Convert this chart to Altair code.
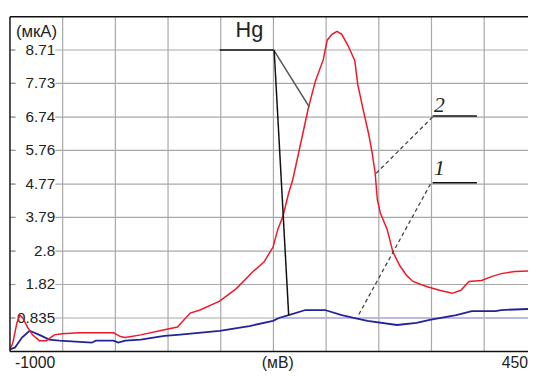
import altair as alt
import pandas as pd

# ---- data ----
red_mv = [-1000, -992, -981, -973, -965, -951, -938, -919, -900, -878, -856, -810, -715, -696, -683,
          -640, -575, -539, -504, -477, -423, -377, -331, -301, -276, -263, -249, -233, -222, -206,
          -179, -160, -138, -127, -114, -100, -87, -70, -51, -43, -27, -13, -3, 5, 11, 19, 38, 54,
          73, 92, 109, 146, 182, 217, 241, 263, 298, 325, 352, 390, 426]
red_ua = [-0.09, 0.11, 0.69, 0.92, 0.84, 0.55, 0.34, 0.17, 0.17, 0.34, 0.37, 0.40, 0.40, 0.29, 0.26,
          0.34, 0.49, 0.57, 0.98, 1.07, 1.33, 1.70, 2.20, 2.48, 2.92, 3.44, 3.82, 4.51, 4.89, 5.67,
          7.00, 7.78, 8.42, 9.00, 9.17, 9.26, 9.17, 8.85, 8.40, 7.70, 6.91, 6.25, 5.67, 5.09, 4.31,
          3.93, 3.44, 2.77, 2.37, 2.08, 1.91, 1.76, 1.65, 1.56, 1.65, 1.91, 1.94, 2.05, 2.14, 2.20, 2.22]

blue_mv = [-1000, -986, -967, -946, -919, -892, -864, -775, -764, -715, -702, -683, -640, -575, -539,
           -423, -341, -276, -260, -233, -187, -133, -87, -51, -16, 65, 119, 155, 228, 271, 336, 352, 426]
blue_ua = [-0.09, -0.03, 0.26, 0.46, 0.34, 0.20, 0.17, 0.11, 0.17, 0.17, 0.11, 0.17, 0.20, 0.31, 0.34,
           0.46, 0.60, 0.75, 0.835, 0.92, 1.07, 1.07, 0.92, 0.835, 0.75, 0.63, 0.69, 0.78, 0.92, 1.04,
           1.04, 1.07, 1.10]

y_ticks = [8.71, 7.73, 6.74, 5.76, 4.77, 3.79, 2.8, 1.82, 0.835]
y_tick_labels = ["8.71", "7.73", "6.74", "5.76", "4.77", "3.79", "2.8", "1.82", "0.835"]
x_grid = [-855, -710, -565, -420, -275, -130, 15, 160, 305]

# annotation segments (data coordinates)
solid_x = [-423, 163, 163]
solid_y = [8.71, 6.77, 4.81]
solid_x2 = [-274, 285, 285]
solid_y2 = [8.71, 6.77, 4.81]

hg_x = [-274, -273]
hg_y = [8.71, 8.71]
hg_x2 = [-176, -233]
hg_y2 = [7.03, 0.92]
hg_col = ["#555555", "#111111"]

dash_x = [163, 157]
dash_y = [6.74, 4.77]
dash_x2 = [5, -41]
dash_y2 = [5.06, 0.92]

ann_text = ["2", "1"]
ann_x = [182, 182]
ann_y = [6.88, 5.05]

X_MIN, X_MAX = -1000, 425.6
Y_MIN, Y_MAX = -0.15, 9.69
W, H = 526, 340
FONT = "Liberation Sans"
GRID = "#a8a8a8"

xs = alt.Scale(domain=[X_MIN, X_MAX], nice=False, zero=False)
ys = alt.Scale(domain=[Y_MIN, Y_MAX], nice=False, zero=False)

red = pd.DataFrame({"mv": red_mv, "ua": red_ua})
blue = pd.DataFrame({"mv": blue_mv, "ua": blue_ua})
ticks = pd.DataFrame({"v": y_ticks, "t": y_tick_labels})
vgrid = pd.DataFrame({"g": x_grid})
one = pd.DataFrame({"a": [0]})

grid_v = alt.Chart(vgrid).mark_rule(color=GRID, strokeWidth=1.2).encode(
    x=alt.X("g:Q", scale=xs, axis=None), y=alt.value(0), y2=alt.value(H))
grid_h = alt.Chart(ticks).mark_rule(color=GRID, strokeWidth=1.2).encode(
    y=alt.Y("v:Q", scale=ys, axis=None), x=alt.value(0), x2=alt.value(W))

blue_line = alt.Chart(blue).mark_line(color="#22229c", strokeWidth=1.8).encode(
    x=alt.X("mv:Q", scale=xs, axis=None),
    y=alt.Y("ua:Q", scale=ys, axis=None),
)
red_line = alt.Chart(red).mark_line(color="#f01828", strokeWidth=1.5).encode(
    x=alt.X("mv:Q", scale=xs, axis=None),
    y=alt.Y("ua:Q", scale=ys, axis=None),
)

baseline = alt.Chart(pd.DataFrame({"x": [-265], "x2": [X_MAX], "y": [0.835]})).mark_rule(
    color="#b4b4e6", strokeWidth=1.5).encode(
    x=alt.X("x:Q", scale=xs, axis=None), x2="x2:Q", y=alt.Y("y:Q", scale=ys, axis=None))

label_bg = alt.Chart(ticks).mark_rule(color="white", strokeWidth=13).encode(
    x=alt.value(6), x2=alt.value(46), y=alt.Y("v:Q", scale=ys, axis=None))
tick_dash = alt.Chart(ticks).mark_rule(color="#999999", strokeWidth=1.2).encode(
    x=alt.value(1), x2=alt.value(5), y=alt.Y("v:Q", scale=ys, axis=None))
tick_text = alt.Chart(ticks).mark_text(align="right", baseline="middle", font=FONT,
                                       fontSize=15.5, color="#222222").encode(
    x=alt.value(46), y=alt.Y("v:Q", scale=ys, axis=None), text="t:N")

unit_y = alt.Chart(pd.DataFrame({"t": ["(мкА)"]})).mark_text(
    align="left", baseline="alphabetic", font=FONT, fontSize=17, color="#222222").encode(
    x=alt.value(6), y=alt.value(21), text="t:N")

solid = alt.Chart(pd.DataFrame({"x": solid_x, "y": solid_y, "x2": solid_x2, "y2": solid_y2})).mark_rule(
    color="#111111", strokeWidth=1.6).encode(
    x=alt.X("x:Q", scale=xs, axis=None), x2="x2:Q", y=alt.Y("y:Q", scale=ys, axis=None), y2="y2:Q")
hg_lines = alt.Chart(pd.DataFrame({"x": hg_x, "y": hg_y, "x2": hg_x2, "y2": hg_y2, "c": hg_col})).mark_rule(
    strokeWidth=1.5).encode(
    x=alt.X("x:Q", scale=xs, axis=None), x2="x2:Q", y=alt.Y("y:Q", scale=ys, axis=None), y2="y2:Q",
    color=alt.Color("c:N", scale=None))
dashed = alt.Chart(pd.DataFrame({"x": dash_x, "y": dash_y, "x2": dash_x2, "y2": dash_y2})).mark_rule(
    color="#444444", strokeWidth=1.3, strokeDash=[4, 3]).encode(
    x=alt.X("x:Q", scale=xs, axis=None), x2="x2:Q", y=alt.Y("y:Q", scale=ys, axis=None), y2="y2:Q")

hg_text = alt.Chart(pd.DataFrame({"x": [-341], "y": [9.09], "t": ["Hg"]})).mark_text(
    align="center", baseline="alphabetic", font=FONT, fontSize=22, color="#222222").encode(
    x=alt.X("x:Q", scale=xs, axis=None), y=alt.Y("y:Q", scale=ys, axis=None), text="t:N")
num_text = alt.Chart(pd.DataFrame({"x": ann_x, "y": ann_y, "t": ann_text})).mark_text(
    align="center", baseline="alphabetic", font="Liberation Serif", fontSize=22, fontStyle="italic",
    color="#222222").encode(
    x=alt.X("x:Q", scale=xs, axis=None), y=alt.Y("y:Q", scale=ys, axis=None), text="t:N")

frame_top = alt.Chart(one).mark_rule(color="#111111", strokeWidth=1.5).encode(
    x=alt.value(0), x2=alt.value(W), y=alt.value(0))
frame_bottom = alt.Chart(one).mark_rule(color="#111111", strokeWidth=1.5).encode(
    x=alt.value(0), x2=alt.value(W), y=alt.value(H))
frame_left = alt.Chart(one).mark_rule(color="#111111", strokeWidth=1.5).encode(
    x=alt.value(0), y=alt.value(0), y2=alt.value(H))

xl_left = alt.Chart(pd.DataFrame({"t": ["-1000"]})).mark_text(
    align="left", baseline="alphabetic", font=FONT, fontSize=16, color="#222222").encode(
    x=alt.value(5), y=alt.value(357), text="t:N")
xl_mid = alt.Chart(pd.DataFrame({"x": [-263], "t": ["(мВ)"]})).mark_text(
    align="center", baseline="alphabetic", font=FONT, fontSize=16, color="#222222").encode(
    x=alt.X("x:Q", scale=xs, axis=None), y=alt.value(357), text="t:N")
xl_right = alt.Chart(pd.DataFrame({"x": [X_MAX], "t": ["450"]})).mark_text(
    align="right", baseline="alphabetic", font=FONT, fontSize=16, color="#222222").encode(
    x=alt.X("x:Q", scale=xs, axis=None), y=alt.value(357), text="t:N")

chart = alt.layer(
    grid_v, grid_h, baseline, label_bg, tick_dash, tick_text, unit_y,
    blue_line, red_line, solid, hg_lines, dashed, hg_text, num_text,
    frame_top, frame_bottom, frame_left, xl_left, xl_mid, xl_right,
).properties(
    width=W, height=H,
    autosize=alt.AutoSizeParams(type="none"),
    padding={"left": 2, "top": 6, "right": 0, "bottom": 20},
    background="white",
).configure_view(stroke=None)

chart.save("out.html", embed_options={"renderer": "svg", "actions": False})
